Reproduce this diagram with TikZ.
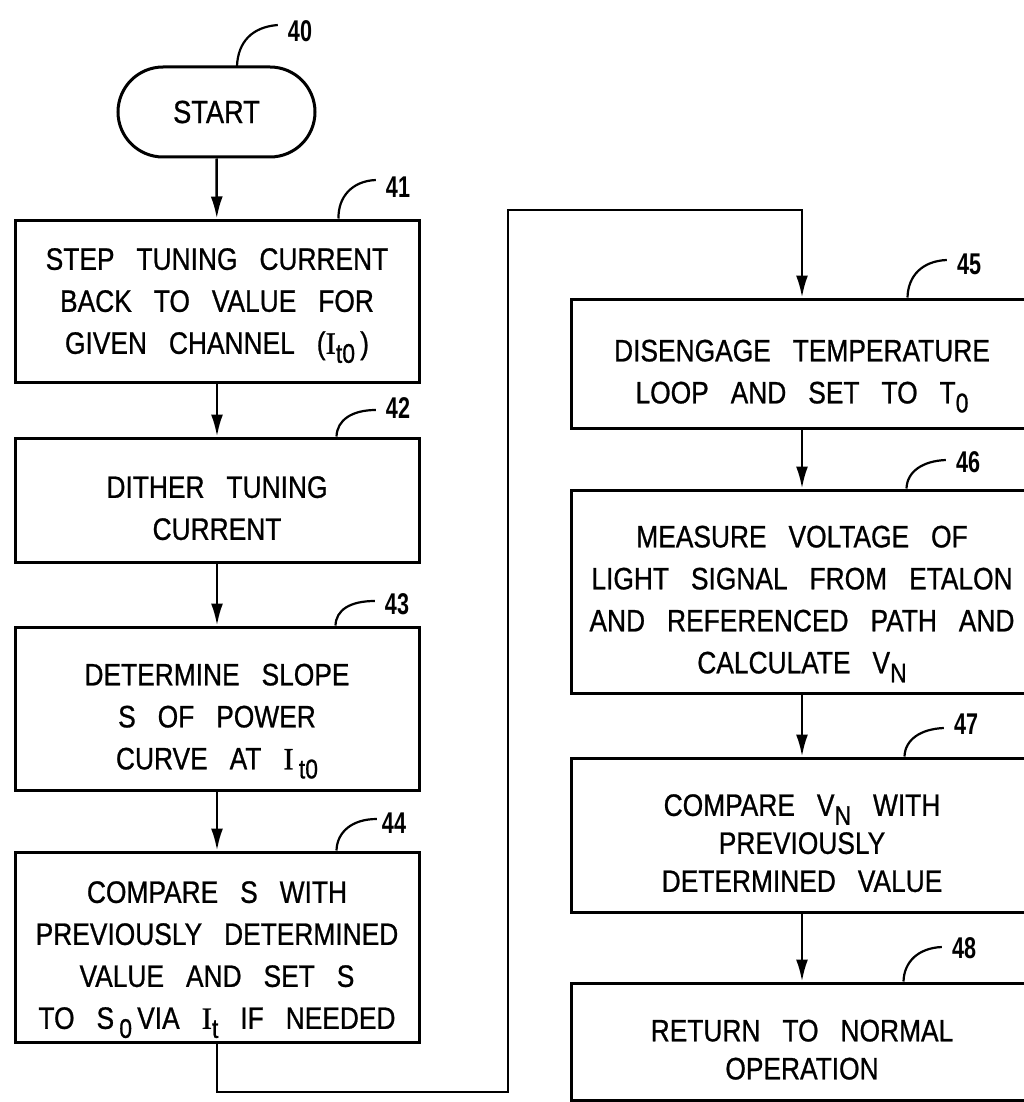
\documentclass[tikz,border=0pt]{standalone}
\usepackage{fontspec}
\setmainfont{Liberation Sans}[FakeStretch=0.85,WordSpace=3,FakeBold=0.8]
\newfontfamily\serifI{Liberation Serif}[FakeBold=0.8]
\newfontfamily\tagfont{Liberation Sans}[FakeStretch=0.72]
\usetikzlibrary{arrows.meta}
\usetikzlibrary{calc}
\newcommand{\lowidx}[1]{\raisebox{-9pt}[0pt][0pt]{\fontsize{27pt}{27pt}\selectfont #1}}
\newcommand{\topgap}{\rule{0pt}{38pt}}

\begin{document}
\begin{tikzpicture}[x=1pt,y=-1pt]
\tikzstyle{stepbox}=[draw, line width=3pt, rectangle, inner sep=0pt, align=center, font=\fontsize{31}{42}\selectfont]
\tikzstyle{terminal}=[draw, line width=3pt, rectangle, rounded corners=45pt, minimum width=197pt, minimum height=90pt, font=\fontsize{32}{36}\selectfont]
\tikzstyle{flow}=[line width=2.5pt, -{Latex[length=22pt,width=12pt]}]
\tikzstyle{leader}=[line width=2.2pt]
\tikzstyle{tag}=[inner sep=0pt, font=\tagfont\bfseries\fontsize{30}{30}\selectfont]
\useasboundingbox (0,0) rectangle (1023,1102);
\coordinate (start_pos) at (216.5,112);
\coordinate (step_pos) at (217,301);
\coordinate (dither_pos) at (217,500);
\coordinate (slope_pos) at (217,708.5);
\coordinate (cmp_s_pos) at (217,947);
\coordinate (temp_pos) at (802,363.5);
\coordinate (meas_pos) at (802,591.5);
\coordinate (cmp_v_pos) at (802,835);
\coordinate (ret_pos) at (802,1041.5);
\coordinate (loop_low) at (508,1092);
\coordinate (loop_high) at (508,210);
% boxes
\node (start) at (start_pos) [terminal] {START};
\node (step_back) at (step_pos) [stepbox, minimum width=404pt, minimum height=162pt] {\rule{0pt}{28pt}STEP TUNING CURRENT\\BACK TO VALUE FOR\\GIVEN CHANNEL ({\serifI I}\lowidx{t0}\,)};
\node (dither) at (dither_pos) [stepbox, minimum width=404pt, minimum height=124pt] {\topgap DITHER TUNING\\CURRENT};
\node (slope) at (slope_pos) [stepbox, minimum width=404pt, minimum height=163pt] {\topgap DETERMINE SLOPE\\S OF POWER\\CURVE AT {\serifI I}\,\lowidx{t0}};
\node (cmp_s) at (cmp_s_pos) [stepbox, minimum width=404pt, minimum height=190pt] {\topgap COMPARE S WITH\\PREVIOUSLY DETERMINED\\VALUE AND SET S\\TO S\,\lowidx{0}\,VIA {\serifI I}\lowidx{t} IF NEEDED};
\node (temp_loop) at (temp_pos) [stepbox, minimum width=462pt, minimum height=129pt] {\topgap DISENGAGE TEMPERATURE\\LOOP AND SET TO T\lowidx{0}};
\node (measure) at (meas_pos) [stepbox, minimum width=462pt, minimum height=203pt] {\topgap MEASURE VOLTAGE OF\\LIGHT SIGNAL FROM ETALON\\AND REFERENCED PATH AND\\CALCULATE V\lowidx{N}};
\node (cmp_v) at (cmp_v_pos) [stepbox, minimum width=462pt, minimum height=154pt, font=\fontsize{31}{38}\selectfont] {\topgap COMPARE V\lowidx{N} WITH\\PREVIOUSLY\\DETERMINED VALUE};
\node (ret) at (ret_pos) [stepbox, minimum width=462pt, minimum height=117pt, font=\fontsize{31}{38}\selectfont] {\topgap RETURN TO NORMAL\\OPERATION};
% reference numerals
\node (tag40) at (300,31) [tag] {40};
\node (tag41) at (398,187) [tag] {41};
\node (tag42) at (398,408) [tag] {42};
\node (tag43) at (397,604) [tag] {43};
\node (tag44) at (394,823) [tag] {44};
\node (tag45) at (969,264) [tag] {45};
\node (tag46) at (968,462) [tag] {46};
\node (tag47) at (966,724) [tag] {47};
\node (tag48) at (964,948) [tag] {48};
% flow
\path (start) -- (step_back) [draw, flow];
\path (step_back) -- (dither) [draw, flow];
\path (dither) -- (slope) [draw, flow];
\path (slope) -- (cmp_s) [draw, flow];
\path (cmp_s.south) |- (loop_low) -- (loop_high) -| (temp_loop.north) [draw, flow];
\path (temp_loop) -- (measure) [draw, flow];
\path (measure) -- (cmp_v) [draw, flow];
\path (cmp_v) -- (ret) [draw, flow];
% leaders
\path (237,66) .. controls (238,42) and (252,27) .. ($(tag40.west)+(-10,-6)$) [draw, leader];
\path ($(step_back.north east)+(-82,0)$) .. controls (338,197) and (352,181) .. ($(tag41.west)+(-10,-7)$) [draw, leader];
\path ($(dither.north east)+(-84,0)$) .. controls (337,420) and (352,410) .. ($(tag42.west)+(-10,2)$) [draw, leader];
\path ($(slope.north east)+(-85,0)$) .. controls (336,610) and (350,601) .. ($(tag43.west)+(-10,-3)$) [draw, leader];
\path ($(cmp_s.north east)+(-84,0)$) .. controls (337,832) and (352,819) .. ($(tag44.west)+(-5,-4)$) [draw, leader];
\path ($(temp_loop.north east)+(-127,0)$) .. controls (908,276) and (922,261) .. ($(tag45.west)+(-10,-4)$) [draw, leader];
\path ($(measure.north east)+(-128,0)$) .. controls (907,472) and (922,461) .. ($(tag46.west)+(-10,-2)$) [draw, leader];
\path ($(cmp_v.north east)+(-130,0)$) .. controls (905,740) and (920,729) .. ($(tag47.west)+(-10,4)$) [draw, leader];
\path ($(ret.north east)+(-131,0)$) .. controls (904,962) and (918,948) .. ($(tag48.west)+(-10,-1)$) [draw, leader];
\end{tikzpicture}
\end{document}
